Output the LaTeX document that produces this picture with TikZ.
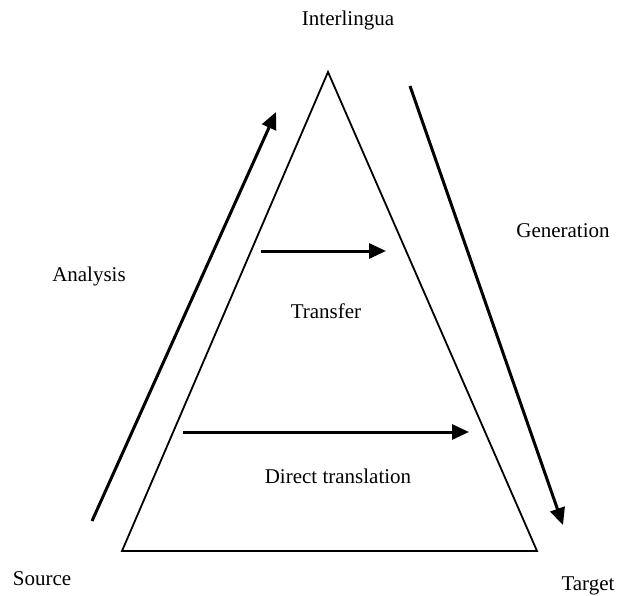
\documentclass[tikz,border=0pt]{standalone}
\usepackage{fontspec}
\setmainfont{Liberation Serif}
\usetikzlibrary{arrows.meta}
\begin{document}
\begin{tikzpicture}[x=1pt,y=-1pt,
  lbl/.style={font=\fontsize{21}{25}\selectfont, inner sep=0pt},
  tri/.style={line width=1.8pt, line join=miter},
  arr/.style={line width=3pt, -{Triangle[length=17pt,width=15pt]}}]
\useasboundingbox (0,0) rectangle (618,596);
\coordinate (apex) at (328,72);
\coordinate (bl) at (122,551);
\coordinate (br) at (537,551);
\draw[tri] (apex) -- (bl) -- (br) -- cycle;
\coordinate (a1) at (92,521);
\coordinate (a2) at (276,112);
\draw[arr] (a1) -- (a2);
\coordinate (g1) at (410,86);
\coordinate (g2) at (563,525);
\draw[arr] (g1) -- (g2);
\coordinate (t1) at (261,251);
\coordinate (t2) at (386,251);
\draw[arr] (t1) -- (t2);
\coordinate (d1) at (183,432);
\coordinate (d2) at (469,432);
\draw[arr] (d1) -- (d2);
\node[lbl] (inter) at (348,20) {Interlingua};
\node[lbl] (gen) at (563,231) {Generation};
\node[lbl] (ana) at (89,276) {Analysis};
\node[lbl] (trans) at (326,311) {Transfer};
\node[lbl] (direct) at (338,476) {Direct translation};
\node[lbl] (src) at (42,579) {Source};
\node[lbl] (tgt) at (588,586) {Target};
\end{tikzpicture}
\end{document}
